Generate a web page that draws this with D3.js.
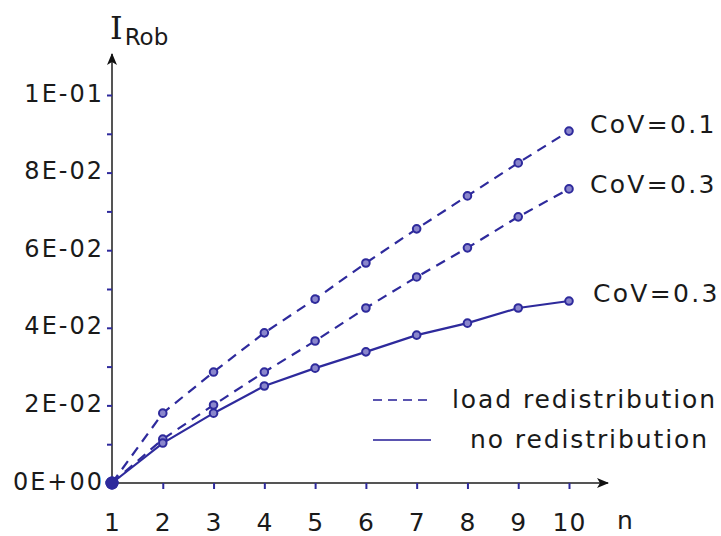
<!DOCTYPE html>
<html>
<head>
	<meta http-equiv="Content-Type" content="text/html;charset=UTF-8">
	<title>I_Rob vs n</title>
	<style>
		body { margin: 0; background: #fff; }
		text { font-family: "DejaVu Sans", Verdana, sans-serif; fill: #1a1a1a; }
	</style>
</head>
<body>
	<div class="chart"></div>

	<script src="https://d3js.org/d3.v7.min.js"></script>
	<script type="text/javascript">

		// data
		var nValues = [1, 2, 3, 4, 5, 6, 7, 8, 9, 10];
		var loadCov01 = [0, 0.0180, 0.0286, 0.0387, 0.0474, 0.0567, 0.0655, 0.0740, 0.0825, 0.0907];
		var loadCov03 = [0, 0.0113, 0.0201, 0.0286, 0.0366, 0.0451, 0.0531, 0.0606, 0.0686, 0.0758];
		var noRedCov03 = [0, 0.0103, 0.0180, 0.0250, 0.0296, 0.0338, 0.0381, 0.0412, 0.0451, 0.0469];
		var seriesLabels = ["CoV=0.1", "CoV=0.3", "CoV=0.3"];
		var yTickValues = [0, 0.02, 0.04, 0.06, 0.08, 0.1];
		var yTickLabels = ["0E+00", "2E-02", "4E-02", "6E-02", "8E-02", "1E-01"];
		var yMinorTicks = [0.01, 0.03, 0.05, 0.07, 0.09];
		var legendLabels = ["load redistribution", "no redistribution"];

		var w = 721, h = 536;
		var blue = "#2e2a9c";

		var svg = d3.select("div.chart").append("svg")
			.attr("width", w)
			.attr("height", h);

		var x = d3.scaleLinear().domain([1, 10]).range([112, 569]);
		var y = d3.scaleLinear().domain([0, 0.1]).range([483, 95]);

		// axis lines with arrows
		svg.append("defs").append("marker")
			.attr("id", "arrow")
			.attr("viewBox", "0 0 12 10")
			.attr("refX", 11).attr("refY", 5)
			.attr("markerWidth", 12).attr("markerHeight", 10)
			.attr("markerUnits", "userSpaceOnUse")
			.attr("orient", "auto")
			.append("path")
			.attr("d", "M0,0 L12,5 L0,10 L3,5 Z")
			.attr("fill", "#111");

		svg.append("line")
			.attr("x1", x(1)).attr("y1", y(0))
			.attr("x2", 608).attr("y2", y(0))
			.attr("stroke", "#555").attr("stroke-width", 2)
			.attr("marker-end", "url(#arrow)");

		svg.append("line")
			.attr("x1", x(1)).attr("y1", y(0))
			.attr("x2", x(1)).attr("y2", 54)
			.attr("stroke", "#555").attr("stroke-width", 2)
			.attr("marker-end", "url(#arrow)");

		// y ticks
		var yAxis = d3.axisLeft(y)
			.tickValues(yTickValues.concat(yMinorTicks))
			.tickSize(5)
			.tickFormat(function(d){
				var i = yTickValues.indexOf(d);
				return i < 0 ? "" : yTickLabels[i];
			});

		var gy = svg.append("g")
			.attr("transform", "translate(" + x(1) + ",0)")
			.call(yAxis);
		gy.select(".domain").remove();
		gy.selectAll(".tick line").attr("stroke", blue).attr("stroke-width", 2);
		gy.selectAll(".tick text")
			.attr("x", -8)
			.attr("dy", "0.25em")
			.style("font-size", "24px")
			.style("letter-spacing", "2px")
			.attr("fill", "#1a1a1a");

		// x ticks
		var xAxis = d3.axisBottom(x)
			.tickValues(nValues)
			.tickSize(6)
			.tickFormat(d3.format("d"));

		var gx = svg.append("g")
			.attr("transform", "translate(0," + y(0) + ")")
			.call(xAxis);
		gx.select(".domain").remove();
		gx.selectAll(".tick line").attr("stroke", blue).attr("stroke-width", 2)
			.attr("y1", 0)
			.style("display", function(d){ return d === 1 ? "none" : null; });
		gx.selectAll(".tick text")
			.attr("y", 48)
			.attr("dy", 0)
			.style("font-size", "25px")
			.style("letter-spacing", "1px")
			.attr("fill", "#1a1a1a");

		svg.append("text")
			.attr("x", 617).attr("y", 529)
			.style("font-size", "25px")
			.text("n");

		// y title
		var title = svg.append("text")
			.attr("x", 110).attr("y", 39);
		title.append("tspan")
			.style("font-family", "'DejaVu Serif', serif")
			.style("font-size", "32px")
			.text("I");
		title.append("tspan")
			.attr("dy", 6)
			.attr("dx", 2)
			.style("font-size", "23px")
			.text("Rob");

		// series
		var series = [
			{ values: loadCov01, dash: "10,7", label: seriesLabels[0], lx: 590, ly: 133 },
			{ values: loadCov03, dash: "10,7", label: seriesLabels[1], lx: 590, ly: 193 },
			{ values: noRedCov03, dash: null, label: seriesLabels[2], lx: 593, ly: 302 }
		];

		var line = d3.line()
			.x(function(d, i){ return x(nValues[i]); })
			.y(function(d){ return y(d); });

		series.forEach(function(s){
			svg.append("path")
				.datum(s.values)
				.attr("d", line)
				.attr("fill", "none")
				.attr("stroke", blue)
				.attr("stroke-width", 2.2)
				.attr("stroke-dasharray", s.dash);

			svg.selectAll(null)
				.data(s.values)
				.enter().append("circle")
				.attr("cx", function(d, i){ return x(nValues[i]); })
				.attr("cy", function(d){ return y(d); })
				.attr("r", function(d, i){ return i === 0 ? 5.5 : 3.8; })
				.attr("fill", function(d, i){ return i === 0 ? blue : "#8a86cc"; })
				.attr("stroke", blue)
				.attr("stroke-width", 2);

			svg.append("text")
				.attr("x", s.lx).attr("y", s.ly)
				.style("font-size", "25px")
				.style("letter-spacing", "2.3px")
				.text(s.label);
		});

		// legend
		var legend = [
			{ dash: "9,6", label: legendLabels[0], ly: 400, tx: 452 },
			{ dash: null, label: legendLabels[1], ly: 440, tx: 470 }
		];
		legend.forEach(function(l){
			svg.append("line")
				.attr("x1", 373).attr("x2", 431)
				.attr("y1", l.ly).attr("y2", l.ly)
				.attr("stroke", "#5a54b0")
				.attr("stroke-width", 2)
				.attr("stroke-dasharray", l.dash);
			svg.append("text")
				.attr("x", l.tx).attr("y", l.ly + 8)
				.style("font-size", "25px")
				.style("letter-spacing", "1.9px")
				.text(l.label);
		});
	</script>
</body>
</html>
